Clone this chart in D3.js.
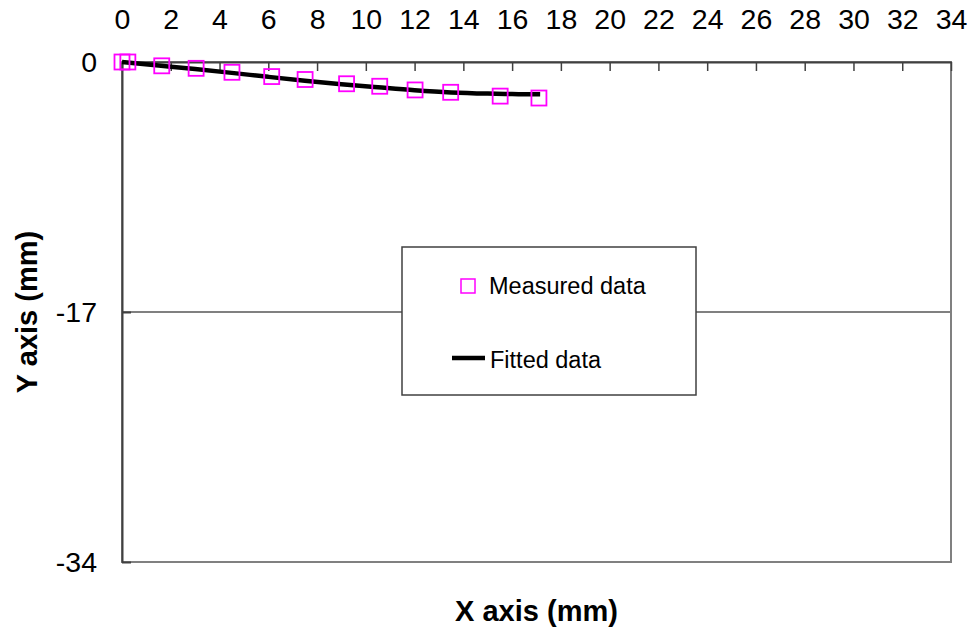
<!DOCTYPE html>
<html>
<head>
<meta charset="utf-8">
<script src="https://cdn.jsdelivr.net/npm/d3@7"></script>
<style>
  html, body { margin: 0; padding: 0; background: #fff; }
  svg { display: block; font-family: "Liberation Sans", Arial, sans-serif; }
</style>
</head>
<body>
<svg id="chart" width="976" height="632"></svg>
<script>
// ---- data ----
const measuredX = [0, 0.24, 1.63, 3.04, 4.51, 6.14, 7.51, 9.21, 10.57, 12.02, 13.48, 15.51, 17.10];
const measuredY = [0, 0, -0.26, -0.43, -0.70, -0.99, -1.19, -1.48, -1.65, -1.90, -2.06, -2.32, -2.45];
const fittedX = [0, 1.5, 3, 4.5, 6, 7.5, 9, 10.5, 12, 13.5, 15, 16, 17.15];
const fittedY = [0, -0.24, -0.48, -0.74, -1.01, -1.27, -1.51, -1.72, -1.92, -2.07, -2.15, -2.18, -2.2];
const xTickValues = [0, 2, 4, 6, 8, 10, 12, 14, 16, 18, 20, 22, 24, 26, 28, 30, 32, 34];
const xTickLabels = ["0","2","4","6","8","10","12","14","16","18","20","22","24","26","28","30","32","34"];
const yTickValues = [0, -17, -34];
const yTickLabels = ["0", "-17", "-34"];
const seriesNames = ["Measured data", "Fitted data"];
const axisTitles = ["X axis (mm)", "Y axis (mm)"];

// ---- layout ----
const L = 122, R = 951, T = 62, B = 562;
const svg = d3.select("#chart");
const x = d3.scaleLinear().domain([0, 34]).range([L, R]);
const y = d3.scaleLinear().domain([-34, 0]).range([B, T]);

// plot border
svg.append("rect").attr("x", L).attr("y", T).attr("width", R - L).attr("height", B - T)
  .attr("fill", "#fff").attr("stroke", "#808080").attr("stroke-width", 2);

// gridline at -17
svg.append("g").selectAll("line").data(yTickValues.filter(v => v !== 0 && v !== -34)).join("line")
  .attr("x1", L).attr("x2", R).attr("y1", d => y(d)).attr("y2", d => y(d))
  .attr("stroke", "#808080").attr("stroke-width", 2);

// top axis
const xAxis = d3.axisTop(x).tickValues(xTickValues)
  .tickFormat((d, i) => xTickLabels[i]).tickSizeInner(-9).tickSizeOuter(0).tickPadding(33);
const gx = svg.append("g").attr("transform", `translate(0,${T})`).call(xAxis);
gx.select(".domain").attr("stroke", "#404040").attr("stroke-width", 2);
gx.selectAll(".tick line").attr("stroke", "#404040").attr("stroke-width", 1.5);
gx.selectAll(".tick text").attr("font-size", 28.5).attr("fill", "#000")
  .attr("font-family", "'Liberation Sans', Arial, sans-serif");

// left axis
const yAxis = d3.axisLeft(y).tickValues(yTickValues)
  .tickFormat((d, i) => yTickLabels[i]).tickSizeInner(-9).tickSizeOuter(0).tickPadding(25);
const gy = svg.append("g").attr("transform", `translate(${L},0)`).call(yAxis);
gy.select(".domain").attr("stroke", "#404040").attr("stroke-width", 2);
gy.selectAll(".tick line").attr("stroke", "#404040").attr("stroke-width", 2);
gy.selectAll(".tick text").attr("font-size", 28.5).attr("fill", "#000")
  .attr("font-family", "'Liberation Sans', Arial, sans-serif");

// fitted line
const fitted = fittedX.map((v, i) => [v, fittedY[i]]);
svg.append("path").datum(fitted)
  .attr("d", d3.line().x(d => x(d[0])).y(d => y(d[1])).curve(d3.curveMonotoneX))
  .attr("fill", "none").attr("stroke", "#000").attr("stroke-width", 4.5)
  .attr("stroke-linecap", "butt");

// measured markers
const measured = measuredX.map((v, i) => [v, measuredY[i]]);
const ms = 15;
svg.append("g").selectAll("rect").data(measured).join("rect")
  .attr("x", d => x(d[0]) - ms / 2).attr("y", d => y(d[1]) - ms / 2)
  .attr("width", ms).attr("height", ms)
  .attr("fill", "none").attr("stroke", "#FF00FF").attr("stroke-width", 1.8);

// legend
const lg = svg.append("g");
lg.append("rect").attr("x", 402).attr("y", 247).attr("width", 294).attr("height", 148)
  .attr("fill", "#fff").attr("stroke", "#404040").attr("stroke-width", 1.5);
lg.append("rect").attr("x", 461).attr("y", 279).attr("width", 14).attr("height", 14)
  .attr("fill", "none").attr("stroke", "#FF00FF").attr("stroke-width", 1.5);
lg.append("text").attr("x", 489).attr("y", 294).attr("font-size", 23.5).text(seriesNames[0]);
lg.append("line").attr("x1", 452).attr("x2", 485).attr("y1", 358).attr("y2", 358)
  .attr("stroke", "#000").attr("stroke-width", 4.5);
lg.append("text").attr("x", 490).attr("y", 368).attr("font-size", 23.5).text(seriesNames[1]);

// axis titles
svg.append("text").attr("x", (L + R) / 2).attr("y", 621).attr("text-anchor", "middle")
  .attr("font-size", 29).attr("font-weight", "bold").text(axisTitles[0]);
svg.append("text").attr("transform", `translate(37,${(T + B) / 2}) rotate(-90)`)
  .attr("text-anchor", "middle").attr("font-size", 29).attr("font-weight", "bold").text(axisTitles[1]);
</script>
</body>
</html>
